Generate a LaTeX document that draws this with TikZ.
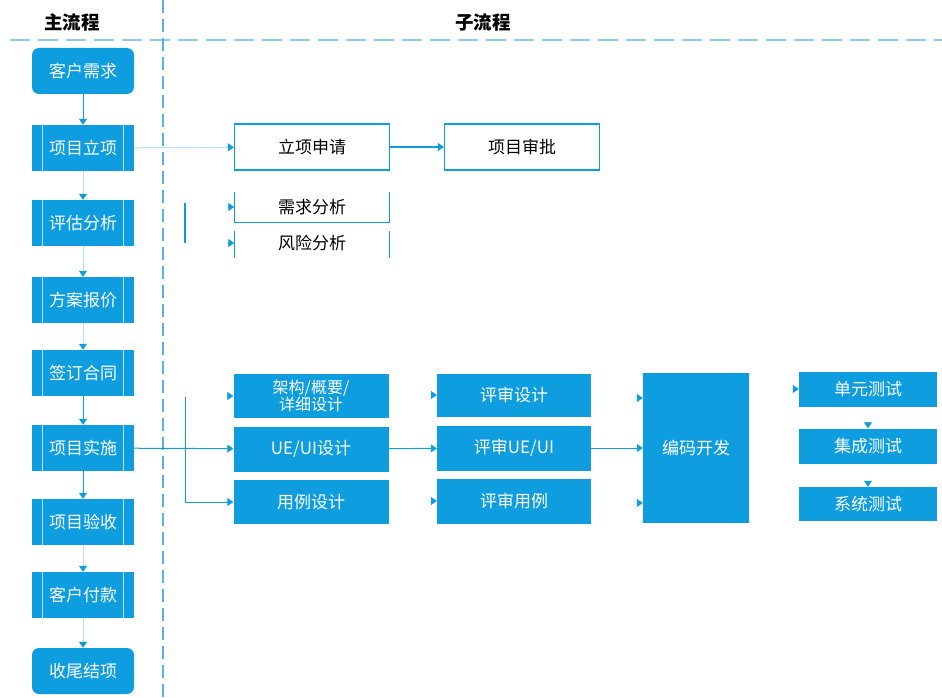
\documentclass[tikz,border=0pt]{standalone}
\usepackage{fontspec}
\setmainfont{Noto Sans CJK SC}
\usetikzlibrary{arrows.meta}
\definecolor{mblue}{HTML}{0E9DDE}
\definecolor{dline}{HTML}{8CCBEE}
\definecolor{vline}{HTML}{5AB2E4}
\tikzset{
  mainbox/.style={fill=mblue, text=white, minimum width=102pt, minimum height=46pt, inner sep=0pt, font=\fontsize{17}{19}\selectfont},
  startbox/.style={mainbox, rounded corners=7pt},
  subbox/.style={fill=mblue, text=white, inner sep=0pt, font=\fontsize{17}{19}\selectfont, align=center},
  wbox/.style={draw=mblue, line width=1.2pt, fill=white, text=black, inner sep=0pt, minimum width=155pt, minimum height=46pt, font=\fontsize{17}{19}\selectfont},
  conn/.style={draw=mblue, line width=1pt, -{Triangle[width=8pt,length=6pt]}},
  faint/.style={draw=mblue!30, line width=1pt, -{Triangle[width=8pt,length=6pt,color=mblue]}},
  tip/.style={draw=mblue, line width=0.8pt, -{Triangle[width=8pt,length=6pt]}},
  plain/.style={draw=mblue, line width=1.2pt},
  title/.style={font=\fontsize{18.5}{20}\selectfont\bfseries, text=black}
}
\begin{document}
\begin{tikzpicture}[x=1pt,y=-1pt]
\useasboundingbox (0,0) rectangle (942,698);
\fill[white] (0,0) rectangle (942,698);
% headers
\node[title] (t1) at (72,22) {主流程};
\node[title] (t2) at (483,22) {子流程};
\coordinate (hl) at (10,40);
\coordinate (hr) at (942,40);
\draw[dline, line width=2pt, dash pattern=on 20pt off 8pt] (hl) -- (hr);
\coordinate (vt) at (163,0);
\coordinate (vb) at (163,698);
\draw[vline, line width=1.5pt, dash pattern=on 13pt off 6pt] (vt) -- (vb);
% main flow
\node[startbox] (m1) at (83,71) {客户需求};
\node[mainbox] (m2) at (83,148) {项目立项};
\node[mainbox] (m3) at (83,223) {评估分析};
\node[mainbox] (m4) at (83,300) {方案报价};
\node[mainbox] (m5) at (83,373) {签订合同};
\node[mainbox] (m6) at (83,448) {项目实施};
\node[mainbox] (m7) at (83,522) {项目验收};
\node[mainbox] (m8) at (83,595) {客户付款};
\node[startbox] (m9) at (83,671) {收尾结项};
\foreach \n in {m2,m3,m4,m5,m6,m7,m8}{
  \draw[white, opacity=0.7, line width=0.8pt] ([xshift=11pt]\n.north west) -- ([xshift=11pt]\n.south west);
  \draw[white, opacity=0.7, line width=0.8pt] ([xshift=-11pt]\n.north east) -- ([xshift=-11pt]\n.south east);
}
\draw[conn] (m1) -- (m2);
\draw[faint] (m2) -- (m3);
\draw[faint] (m3) -- (m4);
\draw[faint] (m4) -- (m5);
\draw[conn] (m5) -- (m6);
\draw[conn] (m6) -- (m7);
\draw[faint] (m7) -- (m8);
\draw[faint] (m8) -- (m9);
% upper sub flow
\node[wbox] (s1) at (312,147) {立项申请};
\node[wbox] (s2) at (522,147) {项目审批};
\draw[faint] (m2) -- (s1);
\draw[conn] (s1) -- (s2);
\node[text=black, inner sep=0pt, minimum width=155pt, minimum height=30pt, font=\fontsize{17}{19}\selectfont] (r1) at (312,207) {需求分析};
\node[text=black, inner sep=0pt, minimum width=155pt, minimum height=30pt, font=\fontsize{17}{19}\selectfont] (r2) at (312,243) {风险分析};
\draw[plain] (r1.north west) -- (r1.south west) -- (r1.south east) -- (r1.north east);
\draw[plain] ([yshift=-3pt]r2.north west) -- (r2.south west);
\draw[plain] ([yshift=-3pt]r2.north east) -- (r2.south east);
\coordinate (ja) at (185,203);
\coordinate (jb) at (185,243);
\draw[plain] (ja) -- (jb);
\draw[tip] ([xshift=-6pt]r1.west) -- (r1.west);
\draw[tip] ([xshift=-6pt]r2.west) -- (r2.west);
% lower sub flow: design
\node[subbox, minimum width=155pt, minimum height=44pt, font=\fontsize{16}{17}\selectfont] (d1) at (311,396) {架构/概要/\\详细设计};
\node[subbox, minimum width=155pt, minimum height=45pt] (d2) at (311,449) {UE/UI设计};
\node[subbox, minimum width=155pt, minimum height=44pt] (d3) at (311,502) {用例设计};
\node[subbox, minimum width=154pt, minimum height=43pt] (e1) at (514,395) {评审设计};
\node[subbox, minimum width=154pt, minimum height=45pt] (e2) at (514,448) {评审UE/UI};
\node[subbox, minimum width=154pt, minimum height=45pt] (e3) at (514,501) {评审用例};
\node[subbox, minimum width=106pt, minimum height=150pt] (c1) at (696,448) {编码开发};
\node[subbox, minimum width=138pt, minimum height=35pt] (u1) at (868,389) {单元测试};
\node[subbox, minimum width=138pt, minimum height=35pt] (u2) at (868,446) {集成测试};
\node[subbox, minimum width=138pt, minimum height=34pt] (u3) at (868,504) {系统测试};
\coordinate (jc) at (185,397);
\coordinate (jd) at (185,502);
\draw[conn] (m6) -- (d2);
\draw[plain, line width=1pt] (jc) -- (jd);
\draw[conn] (jd) -- (d3);
\draw[tip] ([xshift=-6pt]d1.west) -- (d1.west);
\draw[conn] (d2) -- (e2);
\draw[tip] ([xshift=-6pt]e1.west) -- (e1.west);
\draw[tip] ([xshift=-6pt]e3.west) -- (e3.west);
\draw[conn] (e2) -- (c1);
\draw[tip] ([xshift=-6pt,yshift=50pt]c1.west) -- ([yshift=50pt]c1.west);
\draw[tip] ([xshift=-6pt,yshift=-55pt]c1.west) -- ([yshift=-55pt]c1.west);
\draw[tip] ([xshift=-6pt]u1.west) -- (u1.west);
\draw[tip] ([yshift=6pt]u2.north) -- (u2.north);
\draw[tip] ([yshift=6pt]u3.north) -- (u3.north);
\end{tikzpicture}
\end{document}
